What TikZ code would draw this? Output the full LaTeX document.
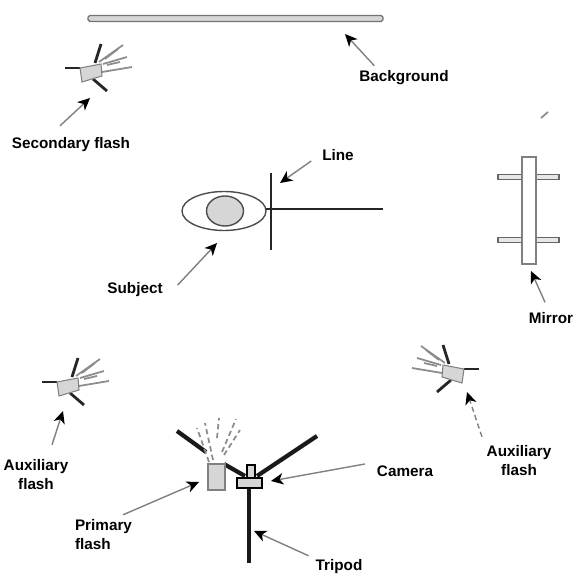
\documentclass[tikz,border=0pt]{standalone}
\usepackage{fontspec}
\setmainfont{Liberation Sans}
\usetikzlibrary{arrows.meta}
\definecolor{bodygray}{gray}{0.84}
\tikzset{
    label text/.style={font=\bfseries\fontsize{8.7}{10.8}\selectfont, align=center, inner sep=1pt, text=black},
    pointer/.style={-{Stealth[black,length=7pt,width=6.5pt,inset=2pt]}, draw=black!50, line width=0.8pt},
    ray/.style={draw=black!45, line width=1pt},
    arm/.style={draw=black!85, line width=1.6pt},
    leg/.style={draw=black!90, line width=2.4pt},
    flashunit/.pic={
        \draw [arm] (4,-10) -- (10,-29);
        \draw [arm] (-11,-5) -- (-26,-5);
        \draw [arm] (2,6) -- (16,18);
        \foreach \a/\b/\c/\d in {8/-11/32/-28, 14/-14/27/-24, 12/-9/36/-16, 16/-8/29/-11, 11/-1/41/-6}
            \draw [ray] (\a,\b) -- (\c,\d);
        \draw [draw=black!50, line width=0.6pt, fill=bodygray] (-11,-5) -- (10,-9) -- (11,3) -- (-9,9) -- cycle;
    }
}

\begin{document}
\begin{tikzpicture}[x=0.02cm, y=-0.02cm, >=Stealth]
    \useasboundingbox (0,0) rectangle (574,574);

    % Background
    \draw [draw=black!55, line width=0.8pt, fill=bodygray, rounded corners=1pt] (88,15.5) rectangle (383,21.5);
    \node [label text] (lblBackground) at (404,78) {Background};
    \coordinate (tipBackground) at (345,34);
    \draw [pointer] (lblBackground.north west) ++(17,-3) -- (tipBackground);

    % Secondary flash
    \pic at (91,73) {flashunit};
    \node [label text] (lblSecondary) at (71,145) {Secondary flash};
    \coordinate (tipSecondary) at (90,98);
    \draw [pointer] (lblSecondary.north) ++(-11,-10) -- (tipSecondary);

    % Subject and line
    \draw [draw=black!70, line width=0.8pt] (224,211) ellipse [x radius=42, y radius=19.5];
    \draw [draw=black!70, line width=0.8pt, fill=bodygray] (225,211) ellipse [x radius=18.5, y radius=15];
    \draw [arm] (266,209) -- (383,209);
    \draw [arm, line width=1pt] (271,173) -- (271,250);
    \node [label text] (lblLine) at (338,155) {Line};
    \coordinate (tipLine) at (280,183);
    \draw [pointer] (lblLine.west) ++(-9,6) -- (tipLine);
    \node [label text] (lblSubject) at (135,290) {Subject};
    \coordinate (tipSubject) at (217,243);
    \draw [pointer] (lblSubject.east) ++(13,-5) -- (tipSubject);

    % Mirror
    \foreach \y in {177,240}
        \draw [draw=black!60, line width=0.7pt, fill=bodygray!60] (498,\y-2.5) rectangle (559,\y+2.5);
    \draw [draw=black!50, line width=0.7pt, fill=white] (522,157) rectangle (536,264);
    \node [label text] (lblMirror) at (551,318) {Mirror};
    \coordinate (tipMirror) at (531,271);
    \draw [pointer] (lblMirror.north) ++(-6,-8) -- (tipMirror);
    \draw [ray] (541,118) -- (548,112);

    % Auxiliary flashes
    \pic at (68,387) {flashunit};
    \node [label text] (lblAuxLeft) at (36,475) {Auxiliary\\flash};
    \coordinate (tipAuxLeft) at (63,411);
    \draw [pointer] (lblAuxLeft.north) ++(16,-13) -- (tipAuxLeft);
    \pic [xscale=-1] at (453,374) {flashunit};
    \node [label text] (lblAuxRight) at (519,461) {Auxiliary\\flash};
    \coordinate (tipAuxRight) at (467,392);
    \draw [pointer, densely dashed] (lblAuxRight.north) ++(-37,-7) -- (tipAuxRight);

    % Primary flash
    \draw [leg] (177,431) -- (206,452);
    \draw [leg] (224,464) -- (245,476);
    \foreach \a/\b/\c/\d in {209/462/197/428, 213/460/205/423, 217/438/219/418, 222/452/236/419, 224/455/240/430}
        \draw [ray, densely dashed] (\a,\b) -- (\c,\d);
    \draw [draw=black!50, line width=0.6pt, fill=bodygray] (208,464) rectangle (225,490);
    \node [label text, align=left] (lblPrimary) at (103.5,535) {Primary\\flash};
    \coordinate (tipPrimary) at (199,482);
    \draw [pointer] (lblPrimary.north) ++(19.5,-3) -- (tipPrimary);

    % Tripod and camera
    \draw [leg] (317,436) -- (257,476);
    \draw [leg] (249,488) -- (249,563);
    \draw [draw=black, line width=1pt, fill=bodygray] (247,465) rectangle (255,478);
    \draw [draw=black, line width=1pt, fill=bodygray] (237,478) rectangle (262,488);
    \node [label text] (lblCamera) at (405,471) {Camera};
    \coordinate (tipCamera) at (271,481);
    \draw [pointer] (lblCamera.west) ++(-10,-7) -- (tipCamera);
    \node [label text] (lblTripod) at (339,567) {Tripod};
    \coordinate (tipTripod) at (254,531);
    \draw [pointer] (lblTripod.north west) ++(-5,-2) -- (tipTripod);
\end{tikzpicture}
\end{document}
